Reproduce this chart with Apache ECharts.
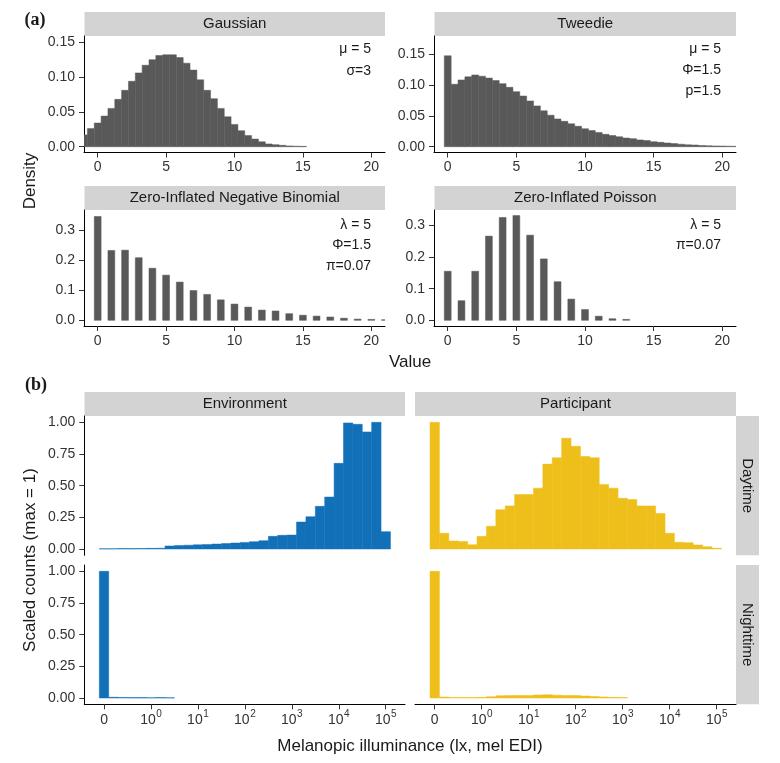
<!DOCTYPE html>
<html>
<head>
<meta charset="utf-8">
<script src="https://cdn.jsdelivr.net/npm/echarts@6.0.0/dist/echarts.min.js"></script>
<style>
  html, body { margin: 0; padding: 0; background: #fff; }
  #chart { width: 780px; height: 763px; }
</style>
</head>
<body>
<div id="chart"></div>
<script>
// ---- panel (a): simulated distributions ----
var gaussianX = [-1, -0.5, 0, 0.5, 1, 1.5, 2, 2.5, 3, 3.5, 4, 4.5, 5, 5.5, 6, 6.5, 7, 7.5, 8, 8.5, 9, 9.5, 10, 10.5, 11, 11.5, 12, 12.5, 13, 13.5, 14, 14.5, 15];
var gaussianY = [0.017, 0.026, 0.034, 0.044, 0.055, 0.068, 0.081, 0.094, 0.106, 0.117, 0.125, 0.131, 0.132, 0.132, 0.128, 0.120, 0.110, 0.096, 0.081, 0.069, 0.055, 0.043, 0.032, 0.023, 0.016, 0.011, 0.007, 0.004, 0.003, 0.002, 0.0012, 0.0008, 0.0005];

var tweedieX = [0, 0.5, 1, 1.5, 2, 2.5, 3, 3.5, 4, 4.5, 5, 5.5, 6, 6.5, 7, 7.5, 8, 8.5, 9, 9.5, 10, 10.5, 11, 11.5, 12, 12.5, 13, 13.5, 14, 14.5, 15, 15.5, 16, 16.5, 17, 17.5, 18, 18.5, 19, 19.5, 20, 20.5, 21];
var tweedieY = [0.147, 0.101, 0.108, 0.113, 0.116, 0.114, 0.111, 0.107, 0.102, 0.096, 0.089, 0.082, 0.074, 0.066, 0.058, 0.051, 0.045, 0.041, 0.037, 0.033, 0.029, 0.026, 0.023, 0.020, 0.018, 0.016, 0.014, 0.013, 0.011, 0.010, 0.008, 0.007, 0.006, 0.005, 0.004, 0.003, 0.0027, 0.002, 0.0015, 0.0012, 0.001, 0.0008, 0.0006];

var zinbX = [0, 1, 2, 3, 4, 5, 6, 7, 8, 9, 10, 11, 12, 13, 14, 15, 16, 17, 18, 19, 20, 21];
var zinbY = [0.345, 0.232, 0.233, 0.208, 0.173, 0.150, 0.127, 0.099, 0.086, 0.068, 0.054, 0.044, 0.034, 0.031, 0.022, 0.017, 0.014, 0.011, 0.007, 0.004, 0.003, 0.002];

var zipX = [0, 1, 2, 3, 4, 5, 6, 7, 8, 9, 10, 11, 12, 13];
var zipY = [0.155, 0.062, 0.155, 0.266, 0.325, 0.331, 0.269, 0.194, 0.122, 0.067, 0.034, 0.013, 0.005, 0.003];

var valueTicks = [0, 5, 10, 15, 20];
var densTicksSmall = [0, 0.05, 0.10, 0.15];
var densTicksLarge = [0, 0.1, 0.2, 0.3];

// ---- panel (b): melanopic EDI histograms (log10 bins, 0 shown at -1) ----
var logBinEdges = [-1.1, -0.9, -0.7, -0.5, -0.3, -0.1, 0.1, 0.3, 0.5, 0.7, 0.9, 1.1, 1.3, 1.5, 1.7, 1.9, 2.1, 2.3, 2.5, 2.7, 2.9, 3.1, 3.3, 3.5, 3.7, 3.9, 4.1, 4.3, 4.5, 4.7, 4.9, 5.1];
var envDay = [0.002, 0.002, 0.003, 0.003, 0.004, 0.005, 0.006, 0.024, 0.027, 0.030, 0.033, 0.036, 0.039, 0.043, 0.047, 0.052, 0.058, 0.066, 0.100, 0.108, 0.110, 0.213, 0.255, 0.337, 0.410, 0.676, 0.995, 0.984, 0.924, 1.000, 0.137];
var partDay = [1.000, 0.124, 0.063, 0.060, 0.034, 0.100, 0.180, 0.310, 0.340, 0.430, 0.430, 0.480, 0.670, 0.720, 0.874, 0.810, 0.730, 0.720, 0.510, 0.480, 0.400, 0.390, 0.340, 0.340, 0.280, 0.124, 0.053, 0.050, 0.032, 0.018, 0.005];
var envNight = [1.000, 0.006, 0.004, 0.003, 0.003, 0.002, 0.003, 0.002, 0, 0, 0, 0, 0, 0, 0, 0, 0, 0, 0, 0, 0, 0, 0, 0, 0, 0, 0, 0, 0, 0, 0];
var partNight = [1.000, 0.008, 0.004, 0.003, 0.003, 0.005, 0.010, 0.018, 0.020, 0.020, 0.019, 0.024, 0.026, 0.022, 0.020, 0.019, 0.016, 0.012, 0.008, 0.005, 0.003, 0, 0, 0, 0, 0, 0, 0, 0, 0, 0];

var logTickValues = [-1, 0, 1, 2, 3, 4, 5];
var logTickLabels = ['0', '0', '1', '2', '3', '4', '5'];
var scaledTicks = [0, 0.25, 0.50, 0.75, 1.00];

var GREY = '#595959';
var BLUE = '#1170b8';
var YELLOW = '#eebf1b';
var STRIP = '#d3d3d3';
var FONT = '"Liberation Sans", Arial, sans-serif';

var chart = echarts.init(document.getElementById('chart'));

// grids: [left, top, width, height]
var grids = [
  [84, 36, 301, 116.5],
  [434, 36, 302, 116.5],
  [84, 210, 301, 116],
  [434, 210, 302, 116],
  [84.3, 416, 320.7, 139.3],
  [415, 416, 321, 139.3],
  [84.3, 565, 320.7, 139.3],
  [415, 565, 321, 139.3]
];

function labelStyle(size) {
  return { color: '#333', fontFamily: FONT, fontSize: size };
}

function xAxisFor(gi, min, max, ticks, show, fmt, rich, margin) {
  return {
    type: 'value', gridIndex: gi, min: min, max: max,
    splitLine: { show: false },
    axisLine: { show: show, onZero: false, lineStyle: { color: '#000', width: 1 } },
    axisTick: { show: show, length: 5, customValues: ticks, lineStyle: { color: '#333', width: 1 } },
    axisLabel: Object.assign({ show: show, margin: margin || 8, customValues: ticks, formatter: fmt, rich: rich }, labelStyle(14))
  };
}

function yAxisFor(gi, min, max, ticks, show, digits) {
  return {
    type: 'value', gridIndex: gi, min: min, max: max,
    splitLine: { show: false },
    axisLine: { show: show, onZero: false, lineStyle: { color: '#000', width: 1 } },
    axisTick: { show: show, length: 5, customValues: ticks, lineStyle: { color: '#333', width: 1 } },
    axisLabel: Object.assign({ show: show, margin: 9, customValues: ticks,
      formatter: function (v) { return Number(v).toFixed(digits); } }, labelStyle(14))
  };
}

function bars(gi, lo, hi, vals, color) {
  var rows = [];
  for (var i = 0; i < vals.length; i++) {
    rows.push([lo[i], hi[i], vals[i]]);
  }
  return {
    type: 'custom', xAxisIndex: gi, yAxisIndex: gi, clip: true, silent: true,
    data: rows,
    encode: { x: [0, 1], y: 2 },
    renderItem: function (params, api) {
      if (!(api.value(2) > 0)) return null;
      var p0 = api.coord([api.value(0), api.value(2)]);
      var p1 = api.coord([api.value(1), 0]);
      return {
        type: 'rect',
        shape: { x: p0[0], y: p0[1], width: p1[0] - p0[0], height: p1[1] - p0[1] },
        style: { fill: color, stroke: color, lineWidth: 0.5 }
      };
    }
  };
}

function centered(xs, half) {
  return {
    lo: xs.map(function (x) { return x - half; }),
    hi: xs.map(function (x) { return x + half; })
  };
}

var g = centered(gaussianX, 0.25);
var t = centered(tweedieX, 0.25);
var zn = centered(zinbX, 0.25);
var zp = centered(zipX, 0.25);
var binLo = logBinEdges.slice(0, -1);
var binHi = logBinEdges.slice(1);

var intFmt = function (v) { return String(Math.round(v)); };
var logFmt = function (v) {
  var i = logTickValues.indexOf(Math.round(v));
  if (i === 0) return '{b|' + logTickLabels[i] + '}';
  return '{b|10}{s|' + logTickLabels[i] + '}';
};
var logRich = {
  b: { fontSize: 14, fontFamily: FONT, color: '#333', lineHeight: 18, verticalAlign: 'bottom' },
  s: { fontSize: 10, fontFamily: FONT, color: '#333', lineHeight: 11, verticalAlign: 'top', padding: [0, 0, 0, 0.5] }
};

var xAxes = [
  xAxisFor(0, -1, 21, valueTicks, true, intFmt),
  xAxisFor(1, -1, 21, valueTicks, true, intFmt),
  xAxisFor(2, -1, 21, valueTicks, true, intFmt),
  xAxisFor(3, -1, 21, valueTicks, true, intFmt),
  xAxisFor(4, -1.42, 5.41, logTickValues, false, logFmt, logRich, 5),
  xAxisFor(5, -1.42, 5.41, logTickValues, false, logFmt, logRich, 5),
  xAxisFor(6, -1.42, 5.41, logTickValues, true, logFmt, logRich, 5),
  xAxisFor(7, -1.42, 5.41, logTickValues, true, logFmt, logRich, 5)
];

var yAxes = [
  yAxisFor(0, -0.0083, 0.159, densTicksSmall, true, 2),
  yAxisFor(1, -0.0094, 0.1791, densTicksSmall, true, 2),
  yAxisFor(2, -0.0189, 0.3664, densTicksLarge, true, 1),
  yAxisFor(3, -0.018, 0.3485, densTicksLarge, true, 1),
  yAxisFor(4, -0.0497, 1.0497, scaledTicks, true, 2),
  yAxisFor(5, -0.0497, 1.0497, scaledTicks, false, 2),
  yAxisFor(6, -0.0497, 1.0497, scaledTicks, true, 2),
  yAxisFor(7, -0.0497, 1.0497, scaledTicks, false, 2)
];

function strip(x, y, w, h, label, vertical) {
  return [
    { type: 'rect', shape: { x: x, y: y, width: w, height: h }, style: { fill: STRIP }, silent: true },
    { type: 'text', x: x + w / 2, y: y + h / 2, rotation: vertical ? -Math.PI / 2 : 0, silent: true,
      style: { text: label, fill: '#1a1a1a', font: '15px ' + FONT,
        align: 'center', verticalAlign: 'middle', textAlign: 'center', textVerticalAlign: 'middle' } }
  ];
}

function note(x, y, str, size, align, rot, family, weight) {
  return { type: 'text', x: x, y: y, rotation: rot || 0, silent: true,
    style: { text: str, fill: '#1a1a1a', font: (weight || '') + ' ' + size + 'px ' + (family || FONT),
      align: align, verticalAlign: 'middle', textAlign: align, textVerticalAlign: 'middle' } };
}

var graphics = [].concat(
  strip(84.5, 12, 300.5, 24, 'Gaussian'),
  strip(434.5, 12, 301.5, 24, 'Tweedie'),
  strip(84.5, 186, 300.5, 24, 'Zero-Inflated Negative Binomial'),
  strip(434.5, 186, 301.5, 24, 'Zero-Inflated Poisson'),
  strip(84.5, 392, 320.5, 24, 'Environment'),
  strip(415, 392, 321, 24, 'Participant'),
  strip(736, 416, 23, 139.3, 'Daytime', true),
  strip(736, 565, 23, 139.3, 'Nighttime', true),
  [
    note(35, 20, '(a)', 18, 'center', 0, '"Liberation Serif", serif', 'bold'),
    note(36, 385, '(b)', 18, 'center', 0, '"Liberation Serif", serif', 'bold'),
    note(371, 49.5, 'μ = 5', 14, 'right'),
    note(371, 71, 'σ=3', 14, 'right'),
    note(721, 49.5, 'μ = 5', 14, 'right'),
    note(721, 70.5, 'Φ=1.5', 14, 'right'),
    note(721, 91.5, 'p=1.5', 14, 'right'),
    note(371, 225, 'λ = 5', 14, 'right'),
    note(371, 245.5, 'Φ=1.5', 14, 'right'),
    note(371, 266, 'π=0.07', 14, 'right'),
    note(721, 225.5, 'λ = 5', 14, 'right'),
    note(721, 245.5, 'π=0.07', 14, 'right'),
    note(30, 181, 'Density', 17, 'center', Math.PI / 2),
    note(410, 362, 'Value', 17, 'center'),
    note(30, 560, 'Scaled counts (max = 1)', 17, 'center', Math.PI / 2),
    note(410, 746, 'Melanopic illuminance (lx, mel EDI)', 17, 'center')
  ]
);

var option = {
  animation: false,
  backgroundColor: '#fff',
  grid: grids.map(function (r) {
    return { left: r[0], top: r[1], width: r[2], height: r[3], containLabel: false };
  }),
  xAxis: xAxes,
  yAxis: yAxes,
  series: [
    bars(0, g.lo, g.hi, gaussianY, GREY),
    bars(1, t.lo, t.hi, tweedieY, GREY),
    bars(2, zn.lo, zn.hi, zinbY, GREY),
    bars(3, zp.lo, zp.hi, zipY, GREY),
    bars(4, binLo, binHi, envDay, BLUE),
    bars(5, binLo, binHi, partDay, YELLOW),
    bars(6, binLo, binHi, envNight, BLUE),
    bars(7, binLo, binHi, partNight, YELLOW)
  ],
  graphic: { elements: graphics }
};

chart.setOption(option);
</script>
</body>
</html>
